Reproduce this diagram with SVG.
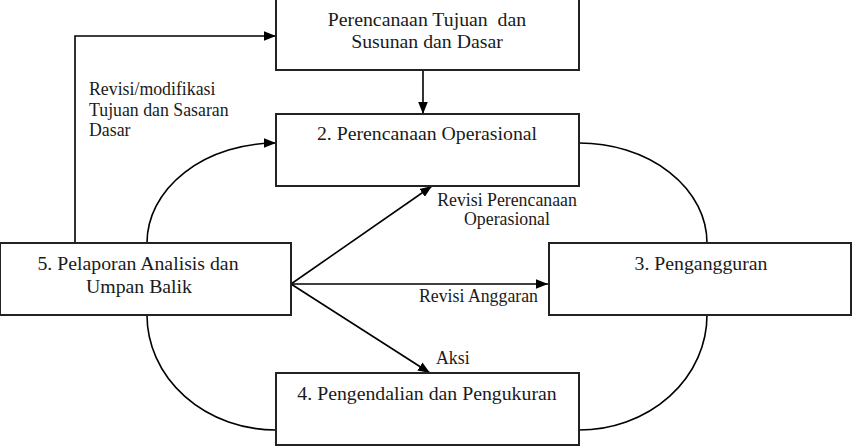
<svg xmlns="http://www.w3.org/2000/svg" width="857" height="448" viewBox="0 0 857 448">
<style>
.box{fill:#fff;stroke:#222;stroke-width:2}
.t{font-family:'Liberation Serif',serif !important;font-size:19.8px;fill:#1a1a1a}
.l{font-family:'Liberation Serif',serif !important;font-size:17.8px;fill:#1a1a1a}
.c{fill:none;stroke:#000;stroke-width:1.6}
</style>
<defs>
<marker id="ahb" viewBox="0 0 10 10" refX="10" refY="5" markerWidth="12" markerHeight="12" orient="auto" markerUnits="userSpaceOnUse">
<path d="M0,1 L10,5 L0,9 z" fill="#000"/>
</marker>
</defs>
<g id="connectors">
<path class="c" d="M75,243 V36 H276" marker-end="url(#ahb)"/>
<path class="c" d="M423,70 V114" marker-end="url(#ahb)"/>
<path class="c" d="M147,243 A129,100 0 0 1 276,143" marker-end="url(#ahb)"/>
<path class="c" d="M579,143 A128,100 0 0 1 707,243"/>
<path class="c" d="M707,315 A128,115 0 0 1 579,430"/>
<path class="c" d="M147,315 A129,115 0 0 0 276,430"/>
<path class="c" d="M291,284 L432,186" marker-end="url(#ahb)"/>
<path class="c" d="M291,284 H548" marker-end="url(#ahb)"/>
<path class="c" d="M291,284 L430,373" marker-end="url(#ahb)"/>
<text class="l" style="font-family:'Liberation Serif',serif !important" x="89" y="95">Revisi/modifikasi</text>
<text class="l" style="font-family:'Liberation Serif',serif !important" x="89" y="116">Tujuan dan Sasaran</text>
<text class="l" style="font-family:'Liberation Serif',serif !important" x="89" y="136">Dasar</text>
<text class="l" style="font-family:'Liberation Serif',serif !important" x="507" y="206" text-anchor="middle">Revisi Perencanaan</text>
<text class="l" style="font-family:'Liberation Serif',serif !important" x="507" y="225" text-anchor="middle">Operasional</text>
<text class="l" style="font-family:'Liberation Serif',serif !important" x="538" y="302" text-anchor="end">Revisi Anggaran</text>
<text class="l" style="font-family:'Liberation Serif',serif !important" x="436" y="364">Aksi</text>
</g>
<g id="n1">
<rect class="box" x="276" y="-2" width="303" height="72"/>
<text class="t" style="font-family:'Liberation Serif',serif !important" x="427" y="26" text-anchor="middle" xml:space="preserve">Perencanaan Tujuan  dan</text>
<text class="t" style="font-family:'Liberation Serif',serif !important" x="427" y="48" text-anchor="middle">Susunan dan Dasar</text>
</g>
<g id="n2">
<rect class="box" x="276" y="114" width="303" height="72"/>
<text class="t" style="font-family:'Liberation Serif',serif !important" x="427" y="140" text-anchor="middle">2. Perencanaan Operasional</text>
</g>
<g id="n3">
<rect class="box" x="549" y="243" width="302" height="72"/>
<text class="t" style="font-family:'Liberation Serif',serif !important" x="701" y="270" text-anchor="middle">3. Pengangguran</text>
</g>
<g id="n4">
<rect class="box" x="276" y="373" width="303" height="72"/>
<text class="t" style="font-family:'Liberation Serif',serif !important" x="427" y="400" text-anchor="middle">4. Pengendalian dan Pengukuran</text>
</g>
<g id="n5">
<rect class="box" x="0" y="243" width="291" height="72"/>
<text class="t" style="font-family:'Liberation Serif',serif !important" x="138" y="270" text-anchor="middle">5. Pelaporan Analisis dan</text>
<text class="t" style="font-family:'Liberation Serif',serif !important" x="139" y="293" text-anchor="middle">Umpan Balik</text>
</g>
</svg>
